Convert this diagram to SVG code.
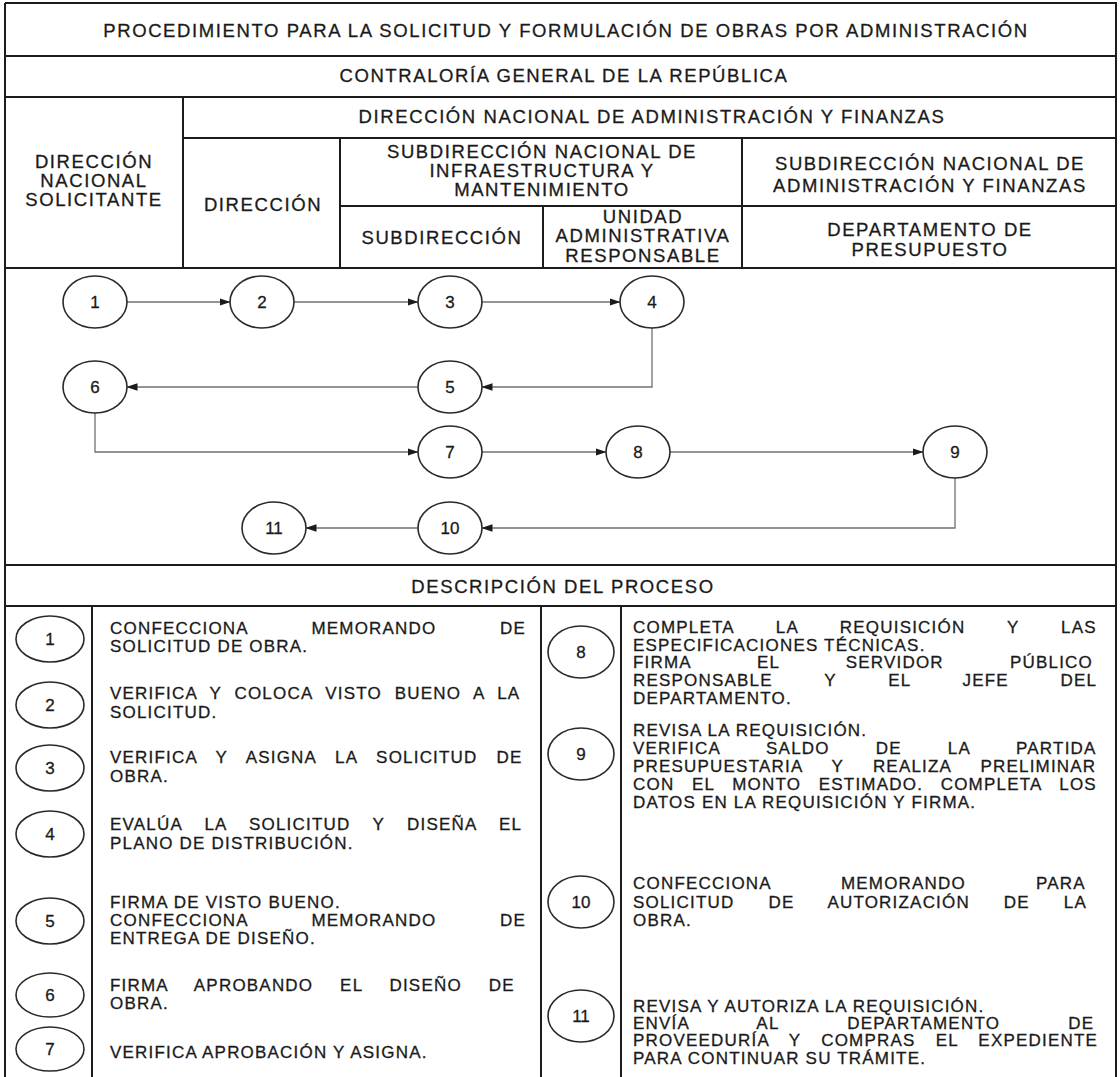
<svg xmlns="http://www.w3.org/2000/svg" width="1120" height="1077" viewBox="0 0 1120 1077">
<style>
.ln{stroke:#1c1c1c;stroke-width:2;fill:none}
.el{fill:#fff;stroke:#2a2a2a;stroke-width:1.6}
.cn{stroke:#707070;stroke-width:1.3;fill:none}
.t{font-family:"Liberation Sans",Arial,sans-serif;font-size:17px;fill:#1a1a1a;stroke:#1a1a1a;stroke-width:0.3;letter-spacing:1.2px}
.h{font-family:"Liberation Sans",Arial,sans-serif;font-size:18.5px;fill:#1a1a1a;stroke:#1a1a1a;stroke-width:0.3;letter-spacing:1.6px;text-anchor:middle}
.n{font-family:"Liberation Sans",Arial,sans-serif;font-size:17px;fill:#1a1a1a;stroke:#1a1a1a;stroke-width:0.3;text-anchor:middle}
</style>
<defs>
<marker id="ar" markerWidth="11" markerHeight="9" refX="10.5" refY="4.5" orient="auto" markerUnits="userSpaceOnUse">
<path d="M0,0.8 L11,4.5 L0,8.2 Z" fill="#1a1a1a"/>
</marker>
</defs>
<rect width="1120" height="1077" fill="#fff"/>

<g id="frame">
<path class="ln" d="M5,3 H1116 V1077 M5,3 V1077"/>
<path class="ln" d="M5,56 H1116 M5,97 H1116 M183,138 H1116 M340,206 H1116 M5,268 H1116 M5,565 H1116 M5,606 H1116"/>
<path class="ln" d="M183,97 V268 M340,138 V268 M543,206 V268 M742,138 V268"/>
<path class="ln" d="M92,606 V1077 M541,606 V1077 M621,606 V1077"/>
</g>

<g id="header">
<text class="h" x="566" y="37">PROCEDIMIENTO PARA LA SOLICITUD Y FORMULACIÓN DE OBRAS POR ADMINISTRACIÓN</text>
<text class="h" x="564" y="82">CONTRALORÍA GENERAL DE LA REPÚBLICA</text>
<text class="h" x="652" y="123">DIRECCIÓN NACIONAL DE ADMINISTRACIÓN Y FINANZAS</text>
<text class="h" x="94" y="168">DIRECCIÓN</text>
<text class="h" x="94" y="187">NACIONAL</text>
<text class="h" x="94" y="206">SOLICITANTE</text>
<text class="h" x="263" y="211">DIRECCIÓN</text>
<text class="h" x="542" y="158">SUBDIRECCIÓN NACIONAL DE</text>
<text class="h" x="542" y="177">INFRAESTRUCTURA Y</text>
<text class="h" x="542" y="196">MANTENIMIENTO</text>
<text class="h" x="930" y="170">SUBDIRECCIÓN NACIONAL DE</text>
<text class="h" x="930" y="192">ADMINISTRACIÓN Y FINANZAS</text>
<text class="h" x="442" y="244">SUBDIRECCIÓN</text>
<text class="h" x="643" y="223">UNIDAD</text>
<text class="h" x="643" y="242">ADMINISTRATIVA</text>
<text class="h" x="643" y="262">RESPONSABLE</text>
<text class="h" x="930" y="236">DEPARTAMENTO DE</text>
<text class="h" x="930" y="256">PRESUPUESTO</text>
<text class="h" x="563" y="593">DESCRIPCIÓN DEL PROCESO</text>
</g>

<g id="connectors">
<path class="cn" d="M127,302 H230" marker-end="url(#ar)"/>
<path class="cn" d="M294,302 H418" marker-end="url(#ar)"/>
<path class="cn" d="M482,302 H620" marker-end="url(#ar)"/>
<path class="cn" d="M652,328 V387 H482" marker-end="url(#ar)"/>
<path class="cn" d="M418,387 H127" marker-end="url(#ar)"/>
<path class="cn" d="M95,413 V452 H418" marker-end="url(#ar)"/>
<path class="cn" d="M482,452 H606" marker-end="url(#ar)"/>
<path class="cn" d="M670,452 H923" marker-end="url(#ar)"/>
<path class="cn" d="M955,478 V528 H482" marker-end="url(#ar)"/>
<path class="cn" d="M418,528 H306" marker-end="url(#ar)"/>
</g>

<g id="n1"><ellipse class="el" cx="95" cy="302" rx="32" ry="26"/><text class="n" x="95" y="308">1</text></g>
<g id="n2"><ellipse class="el" cx="262" cy="302" rx="32" ry="26"/><text class="n" x="262" y="308">2</text></g>
<g id="n3"><ellipse class="el" cx="450" cy="302" rx="32" ry="26"/><text class="n" x="450" y="308">3</text></g>
<g id="n4"><ellipse class="el" cx="652" cy="302" rx="32" ry="26"/><text class="n" x="652" y="308">4</text></g>
<g id="n5"><ellipse class="el" cx="450" cy="387" rx="32" ry="26"/><text class="n" x="450" y="393">5</text></g>
<g id="n6"><ellipse class="el" cx="95" cy="387" rx="32" ry="26"/><text class="n" x="95" y="393">6</text></g>
<g id="n7"><ellipse class="el" cx="450" cy="452" rx="32" ry="26"/><text class="n" x="450" y="458">7</text></g>
<g id="n8"><ellipse class="el" cx="638" cy="452" rx="32" ry="26"/><text class="n" x="638" y="458">8</text></g>
<g id="n9"><ellipse class="el" cx="955" cy="452" rx="32" ry="26"/><text class="n" x="955" y="458">9</text></g>
<g id="n10"><ellipse class="el" cx="450" cy="528" rx="32" ry="26"/><text class="n" x="450" y="534">10</text></g>
<g id="n11"><ellipse class="el" cx="274" cy="528" rx="32" ry="26"/><text class="n" x="274" y="534">11</text></g>

<g id="d1"><ellipse class="el" cx="50" cy="639" rx="34" ry="23"/><text class="n" x="50" y="645">1</text>
<text class="t" x="110" y="634" style="word-spacing:57.6px">CONFECCIONA MEMORANDO DE</text>
<text class="t" x="110" y="652">SOLICITUD DE OBRA.</text></g>
<g id="d2"><ellipse class="el" cx="50" cy="705" rx="34" ry="23"/><text class="n" x="50" y="711">2</text>
<text class="t" x="110" y="699" style="word-spacing:6.8px">VERIFICA Y COLOCA VISTO BUENO A LA</text>
<text class="t" x="110" y="718">SOLICITUD.</text></g>
<g id="d3"><ellipse class="el" cx="50" cy="768" rx="34" ry="23"/><text class="n" x="50" y="774">3</text>
<text class="t" x="110" y="763" style="word-spacing:12.9px">VERIFICA Y ASIGNA LA SOLICITUD DE</text>
<text class="t" x="110" y="782">OBRA.</text></g>
<g id="d4"><ellipse class="el" cx="50" cy="834" rx="34" ry="23"/><text class="n" x="50" y="840">4</text>
<text class="t" x="110" y="830" style="word-spacing:16.4px">EVALÚA LA SOLICITUD Y DISEÑA EL</text>
<text class="t" x="110" y="849">PLANO DE DISTRIBUCIÓN.</text></g>
<g id="d5"><ellipse class="el" cx="50" cy="921" rx="34" ry="23"/><text class="n" x="50" y="927">5</text>
<text class="t" x="110" y="908">FIRMA DE VISTO BUENO.</text>
<text class="t" x="110" y="926" style="word-spacing:57.6px">CONFECCIONA MEMORANDO DE</text>
<text class="t" x="110" y="944">ENTREGA DE DISEÑO.</text></g>
<g id="d6"><ellipse class="el" cx="50" cy="995" rx="34" ry="22"/><text class="n" x="50" y="1001">6</text>
<text class="t" x="110" y="991" style="word-spacing:20.9px">FIRMA APROBANDO EL DISEÑO DE</text>
<text class="t" x="110" y="1009">OBRA.</text></g>
<g id="d7"><ellipse class="el" cx="50" cy="1049" rx="34" ry="22"/><text class="n" x="50" y="1055">7</text>
<text class="t" x="110" y="1058">VERIFICA APROBACIÓN Y ASIGNA.</text></g>

<g id="d8"><ellipse class="el" cx="581" cy="652" rx="33" ry="26"/><text class="n" x="581" y="658">8</text>
<text class="t" x="633" y="633" style="word-spacing:35.9px">COMPLETA LA REQUISICIÓN Y LAS</text>
<text class="t" x="633" y="651">ESPECIFICACIONES TÉCNICAS.</text>
<text class="t" x="633" y="668" style="word-spacing:60.2px">FIRMA EL SERVIDOR PÚBLICO</text>
<text class="t" x="633" y="686" style="word-spacing:45.8px">RESPONSABLE Y EL JEFE DEL</text>
<text class="t" x="633" y="704">DEPARTAMENTO.</text></g>
<g id="d9"><ellipse class="el" cx="581" cy="754" rx="33" ry="26"/><text class="n" x="581" y="760">9</text>
<text class="t" x="633" y="736">REVISA LA REQUISICIÓN.</text>
<text class="t" x="633" y="754" style="word-spacing:40.1px">VERIFICA SALDO DE LA PARTIDA</text>
<text class="t" x="633" y="772" style="word-spacing:23.3px">PRESUPUESTARIA Y REALIZA PRELIMINAR</text>
<text class="t" x="633" y="790" style="word-spacing:11.7px">CON EL MONTO ESTIMADO. COMPLETA LOS</text>
<text class="t" x="633" y="808">DATOS EN LA REQUISICIÓN Y FIRMA.</text></g>
<g id="d10"><ellipse class="el" cx="581" cy="902" rx="33" ry="26"/><text class="n" x="581" y="908">10</text>
<text class="t" x="633" y="889" style="word-spacing:64.1px">CONFECCIONA MEMORANDO PARA</text>
<text class="t" x="633" y="908" style="word-spacing:28px">SOLICITUD DE AUTORIZACIÓN DE LA</text>
<text class="t" x="633" y="926">OBRA.</text></g>
<g id="d11"><ellipse class="el" cx="581" cy="1016" rx="33" ry="26"/><text class="n" x="581" y="1022">11</text>
<text class="t" x="633" y="1012">REVISA Y AUTORIZA LA REQUISICIÓN.</text>
<text class="t" x="633" y="1029" style="word-spacing:62.3px">ENVÍA AL DEPARTAMENTO DE</text>
<text class="t" x="633" y="1046" style="word-spacing:14.2px">PROVEEDURÍA Y COMPRAS EL EXPEDIENTE</text>
<text class="t" x="633" y="1064">PARA CONTINUAR SU TRÁMITE.</text></g>
</svg>
